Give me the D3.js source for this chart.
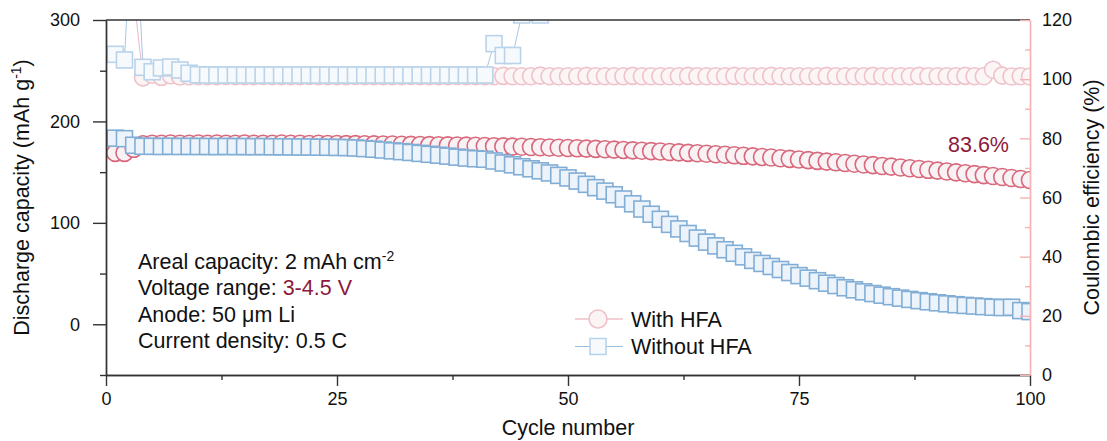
<!DOCTYPE html>
<html>
<head>
<meta charset="utf-8">
<script src="https://cdn.jsdelivr.net/npm/d3@7"></script>
<style>
	body { margin: 0; background: #fff; }
	svg { font-family: "Liberation Sans", Arial, sans-serif; }
	.tick text { font-size: 18px; fill: #111; }
</style>
</head>
<body>
<div id="chart"></div>
<script>
// cycle 1..100 discharge capacity (mAh/g)
var capWith = [
	169, 169, 173, 177.5, 178, 178, 178.2, 178, 178, 178.2,
	178, 178.2, 178, 178, 178.3, 178, 178, 178, 178.2, 178,
	178, 177.8, 178, 177.8, 177.7, 177.6, 177.6, 177.5, 177.4, 177.3,
	177.2, 177, 176.9, 176.8, 176.6, 176.5, 176.4, 176.3, 176.1, 176,
	175.8, 175.6, 175.4, 175.2, 175, 174.8, 174.6, 174.3, 174.1, 173.8,
	173.5, 173.2, 172.9, 172.6, 172.2, 171.9, 171.5, 171.1, 170.7, 170.3,
	169.9, 169.5, 169, 168.6, 168.1, 167.7, 167.2, 166.6, 166.1, 165.5,
	165, 164.4, 163.7, 163.1, 162.4, 161.8, 161.1, 160.4, 159.7, 159,
	158.3, 157.6, 156.9, 156.1, 155.4, 154.6, 153.9, 153.1, 152.3, 151.5,
	150.7, 149.8, 148.9, 148, 147.1, 146.2, 145.2, 144.2, 143.2, 142.2
];
var capWithout = [
	183.5, 183, 176.5, 175.5, 175.5, 175.3, 175.5, 175.3, 175.4, 175.3,
	175.3, 175.2, 175.3, 175.2, 175.2, 175.1, 175.2, 175, 175, 174.9,
	174.8, 174.8, 174.6, 174.5, 174.4, 174.2, 173.8, 173.2, 172.6, 171.8,
	171, 170.2, 169.4, 168.5, 167.6, 166.7, 165.8, 164.8, 163.9, 163.2,
	162.7, 161, 159, 157.2, 155.3, 153.3, 151.3, 149.2, 146.8, 144.3,
	141.2, 138, 134.7, 131.3, 127.7, 123.5, 118.8, 113.6, 108.5, 103.5,
	98.5, 94, 89.5, 85, 81, 77.3, 73.5, 70, 66.5, 63,
	60, 57, 54, 51, 48, 45.5, 43, 40.5, 38.2, 36,
	34, 32, 30.3, 28.7, 27.2, 25.8, 24.5, 23.3, 22.2, 21.2,
	20.2, 19.3, 18.6, 18, 17.4, 16.8, 16.5, 16.8, 13.5, 12.5
];
// coulombic efficiency (%)
var ceWith = [
	138, 134, 128, 100.6, 101.5, 100.8, 101.3, 100.9, 101, 101.1,
	101, 101, 101.1, 101, 101, 101, 101.1, 101, 101, 101,
	101, 101.1, 101, 101, 101, 101, 101.1, 101, 101, 101,
	101, 101, 101.1, 101, 101, 101, 101, 101.1, 101, 101,
	101, 101, 101.1, 101, 101, 101, 101.2, 101, 101, 101,
	101, 101.1, 101, 101, 101, 101, 101.1, 101, 101, 101,
	101, 101, 101.1, 101, 101, 101, 101, 101.1, 101, 101,
	101, 101.1, 101, 101, 101, 101, 101, 101.1, 101, 101,
	101, 101, 101.1, 101, 101, 101, 101, 101.1, 101, 101,
	101, 101, 101.1, 101, 101, 103.2, 101.2, 100.9, 101, 100.9
];
var ceWithout = [
	108.4, 106.5, 168, 104, 102.5, 103.8, 104.1, 103.1, 102, 101.5,
	101.4, 101.4, 101.4, 101.4, 101.4, 101.4, 101.4, 101.4, 101.4, 101.4,
	101.4, 101.4, 101.4, 101.4, 101.4, 101.4, 101.4, 101.4, 101.4, 101.4,
	101.4, 101.4, 101.4, 101.4, 101.4, 101.4, 101.4, 101.4, 101.4, 101.4,
	101.4, 112, 108, 108, 121.7, 128, 121.7
];
var xTicks = [0, 25, 50, 75, 100];
var xMinor = [12.5, 37.5, 62.5, 87.5];
var yTicks = [0, 100, 200, 300];
var yMinor = [-50, 50, 150, 250];
var y2Ticks = [0, 20, 40, 60, 80, 100, 120];
var y2Minor = [10, 30, 50, 70, 90, 110];
var notes = ["Areal capacity: 2 mAh cm", "Voltage range: ", "Anode: 50 μm Li", "Current density: 0.5 C"];
var legendLabels = ["With HFA", "Without HFA"];

CycleChart = function(_parentElement){
	this.parentElement = _parentElement;
	this.initVis();
};

CycleChart.prototype.initVis = function() {
	var vis = this;

	vis.margin = { top: 20, right: 77, bottom: 66, left: 106 };
	vis.width = 1107 - vis.margin.left - vis.margin.right;
	vis.height = 441 - vis.margin.top - vis.margin.bottom;

	vis.svg = d3.select("#" + vis.parentElement).append("svg")
		.attr("width", 1107)
		.attr("height", 441)
		.append("g")
		.attr("transform", "translate(" + vis.margin.left + "," + vis.margin.top + ")");

	vis.x = d3.scaleLinear().domain([0, 100]).range([0, vis.width]);
	vis.y = d3.scaleLinear().domain([-50, 300]).range([vis.height, 0]);
	vis.y2 = d3.scaleLinear().domain([0, 120]).range([vis.height, 0]);

	vis.svg.append("clipPath").attr("id", "plotclip")
		.append("rect").attr("width", vis.width).attr("height", vis.height);

	vis.plot = vis.svg.append("g").attr("clip-path", "url(#plotclip)");

	vis.wrangleData();
};

CycleChart.prototype.wrangleData = function() {
	var vis = this;

	var toPts = function(arr) {
		return arr.map(function(v, i){ return { cycle: i + 1, value: v }; });
	};

	vis.series = [
		{ data: toPts(ceWith), scale: vis.y2, shape: "circle", stroke: "#eec3ca", fill: "#fbf5f6", line: "#efb7c0" },
		{ data: toPts(ceWithout), scale: vis.y2, shape: "square", stroke: "#bad3ea", fill: "#f7fafd", line: "#a9c7e4" },
		{ data: toPts(capWith), scale: vis.y, shape: "circle", stroke: "#d8687c", fill: "#f9f2f4", line: "#e48898" },
		{ data: toPts(capWithout), scale: vis.y, shape: "square", stroke: "#82aed6", fill: "#ecf3fa", line: "#9cc0e2" }
	];

	vis.updateVis();
};

CycleChart.prototype.updateVis = function() {
	var vis = this;

	vis.series.forEach(function(s) {
		var line = d3.line()
			.x(function(d){ return vis.x(d.cycle); })
			.y(function(d){ return s.scale(d.value); });

		vis.plot.append("path")
			.datum(s.data)
			.attr("d", line)
			.attr("fill", "none")
			.attr("stroke", s.line)
			.attr("stroke-width", 1);

		if (s.shape == "circle") {
			vis.plot.selectAll(null).data(s.data).enter().append("circle")
				.attr("cx", function(d){ return vis.x(d.cycle); })
				.attr("cy", function(d){ return s.scale(d.value); })
				.attr("r", 8.5)
				.attr("fill", s.fill)
				.attr("stroke", s.stroke)
				.attr("stroke-width", 1.6);
		} else {
			vis.plot.selectAll(null).data(s.data).enter().append("rect")
				.attr("x", function(d){ return vis.x(d.cycle) - 8; })
				.attr("y", function(d){ return s.scale(d.value) - 8; })
				.attr("width", 16)
				.attr("height", 16)
				.attr("fill", s.fill)
				.attr("stroke", s.stroke)
				.attr("stroke-width", 1.6);
		}
	});

	// axes
	var xAxis = d3.axisBottom(vis.x).tickValues(xTicks).tickSize(11).tickSizeOuter(0).tickPadding(6);
	var xAxisMinor = d3.axisBottom(vis.x).tickValues(xMinor).tickSize(5).tickSizeOuter(0).tickFormat("");
	var yAxis = d3.axisLeft(vis.y).tickValues(yTicks).tickSize(13).tickSizeOuter(0).tickPadding(13);
	var yAxisMinor = d3.axisLeft(vis.y).tickValues(yMinor).tickSize(6).tickSizeOuter(0).tickFormat("");
	var y2Axis = d3.axisRight(vis.y2).tickValues(y2Ticks).tickSizeInner(-10).tickSizeOuter(0).tickPadding(12);
	var y2AxisMinor = d3.axisRight(vis.y2).tickValues(y2Minor).tickSizeInner(-5).tickSizeOuter(0).tickFormat("");

	vis.svg.append("line")
		.attr("x1", 0).attr("x2", vis.width).attr("y1", 0).attr("y2", 0)
		.attr("stroke", "#333").attr("stroke-width", 1.4);

	var axisG = [
		vis.svg.append("g").attr("transform", "translate(0," + vis.height + ")").call(xAxis),
		vis.svg.append("g").attr("transform", "translate(0," + vis.height + ")").call(xAxisMinor),
		vis.svg.append("g").call(yAxis),
		vis.svg.append("g").call(yAxisMinor)
	];
	axisG.forEach(function(g) {
		g.selectAll("path, line").attr("stroke", "#333").attr("stroke-width", 1.4);
	});

	var rightG = [
		vis.svg.append("g").attr("transform", "translate(" + vis.width + ",0)").call(y2Axis),
		vis.svg.append("g").attr("transform", "translate(" + vis.width + ",0)").call(y2AxisMinor)
	];
	rightG.forEach(function(g) {
		g.selectAll("path, line").attr("stroke", "#f6b3b3").attr("stroke-width", 1.4);
	});
	vis.svg.selectAll(".tick text").attr("font-family", null).attr("font-size", null);

	// axis titles
	var left = vis.svg.append("text")
		.attr("transform", "translate(-77," + (vis.height / 2) + ") rotate(-90)")
		.attr("text-anchor", "middle")
		.attr("font-size", "21.5px")
		.attr("fill", "#111");
	left.append("tspan").text("Discharge capacity (mAh g");
	left.append("tspan").attr("font-size", "14px").attr("dy", -8).text("-1");
	left.append("tspan").attr("dy", 8).text(")");

	vis.svg.append("text")
		.attr("transform", "translate(" + (vis.width + 69) + "," + (vis.height / 2) + ") rotate(-90)")
		.attr("text-anchor", "middle")
		.attr("font-size", "21.5px")
		.attr("fill", "#111")
		.text("Coulombic efficiency (%)");

	vis.svg.append("text")
		.attr("x", vis.width / 2)
		.attr("y", vis.height + 60)
		.attr("text-anchor", "middle")
		.attr("font-size", "21.5px")
		.attr("fill", "#111")
		.text("Cycle number");

	// retention label
	vis.svg.append("text")
		.attr("x", 842)
		.attr("y", 132)
		.attr("font-size", "21.5px")
		.attr("fill", "#8b1a3c")
		.text("83.6%");

	// conditions
	var notesG = vis.svg.append("g").attr("font-size", "21.5px").attr("fill", "#111");
	notes.forEach(function(t, i) {
		var tx = notesG.append("text")
			.attr("x", 32)
			.attr("y", 249 + i * 26.4);
		tx.append("tspan").text(t);
		if (i == 0) {
			tx.append("tspan").attr("font-size", "14px").attr("dy", -8).text("-2");
		}
		if (i == 1) {
			tx.append("tspan").attr("fill", "#8b1a3c").text("3-4.5 V");
		}
	});

	// legend
	var legend = vis.svg.append("g").attr("transform", "translate(469,299)");
	var legendStyle = [
		{ shape: "circle", stroke: "#f0bfc7", fill: "#fbf4f5", line: "#e7a1ad" },
		{ shape: "square", stroke: "#b7d1ea", fill: "#f6fafd", line: "#97bde0" }
	];
	legendLabels.forEach(function(lbl, i) {
		var st = legendStyle[i];
		var g = legend.append("g").attr("transform", "translate(0," + (i * 27.5) + ")");
		g.append("line").attr("x1", 0).attr("x2", 48).attr("y1", 0).attr("y2", 0)
			.attr("stroke", st.line).attr("stroke-width", 1.2);
		if (st.shape == "circle") {
			g.append("circle").attr("cx", 23).attr("cy", 0).attr("r", 9)
				.attr("fill", st.fill).attr("stroke", st.stroke).attr("stroke-width", 1.5);
		} else {
			g.append("rect").attr("x", 15).attr("y", -8).attr("width", 16).attr("height", 16)
				.attr("fill", st.fill).attr("stroke", st.stroke).attr("stroke-width", 1.5);
		}
		g.append("text").attr("x", 56).attr("y", 7.5)
			.attr("font-size", "21.5px").attr("fill", "#111").text(lbl);
	});
};

new CycleChart("chart");
</script>
</body>
</html>
